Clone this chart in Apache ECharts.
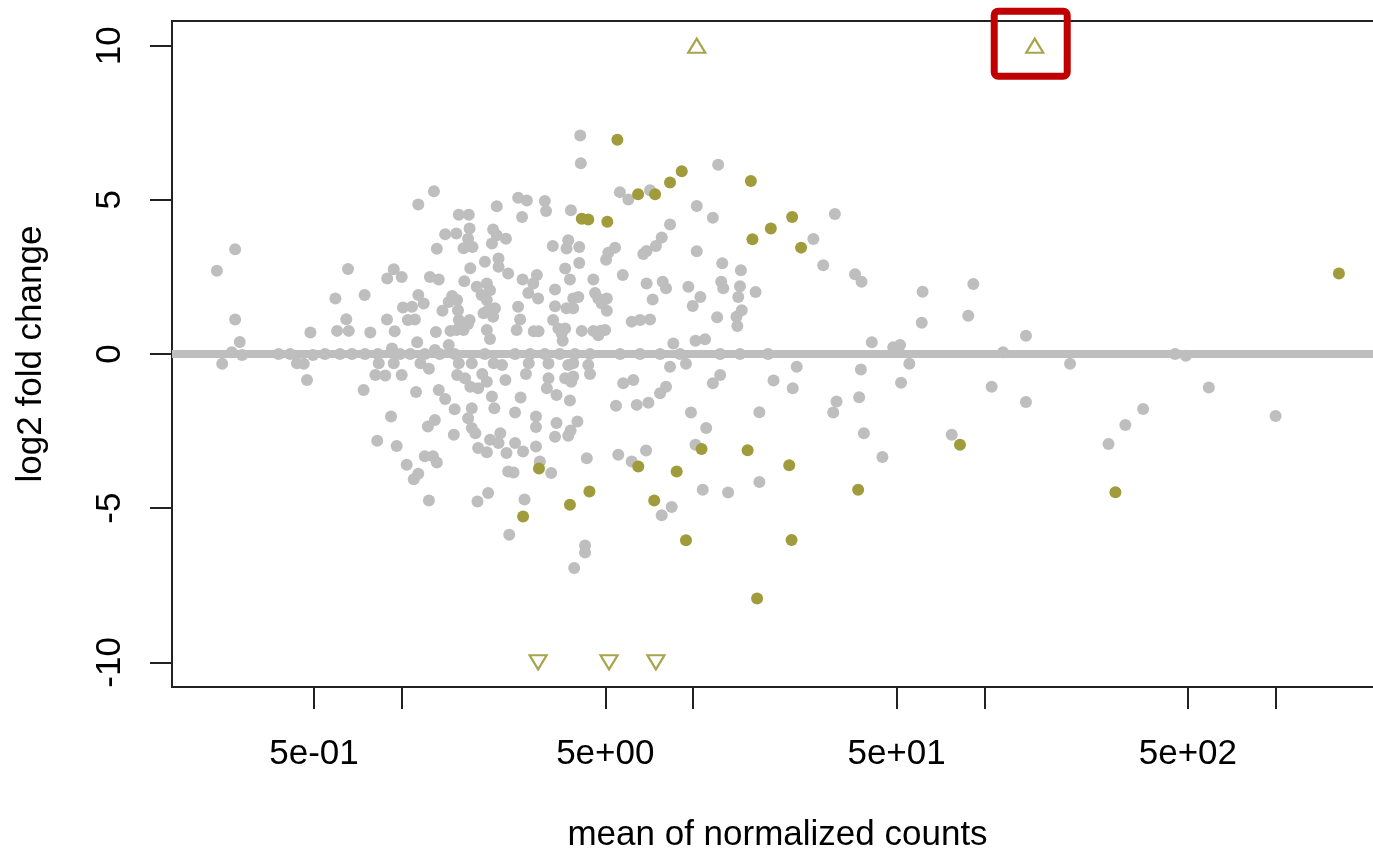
<!DOCTYPE html>
<html><head><meta charset="utf-8">
<script src="https://cdn.jsdelivr.net/npm/echarts@6/dist/echarts.min.js"></script>
<style>html,body{margin:0;padding:0;background:#fff;overflow:hidden}#c{width:1373px;height:850px}</style>
</head><body><div id="c"></div>
<script>
// ---- data ----
const NS_MEAN = [
0.232,0.242,0.261,0.268,0.268,0.278,0.283,0.378,0.414,0.437,
0.461,0.473,0.486,0.496,0.545,0.592,0.600,0.614,0.645,0.654,
0.658,0.675,0.740,0.746,0.748,0.780,0.812,0.824,0.829,0.834,
0.878,0.890,0.892,0.919,0.926,0.939,0.939,0.946,0.961,0.987,
1.00,1.00,1.01,1.04,1.05,1.07,1.11,1.085,1.10,1.12,
1.13,1.14,1.14,1.14,1.16,1.19,1.20,1.20,1.23,1.24,
1.24,1.25,1.28,1.29,1.30,1.31,1.30,1.32,1.32,1.34,
1.34,1.35,1.38,1.41,1.41,1.45,1.45,1.47,1.49,1.51,
1.52,1.52,1.54,1.54,1.55,1.55,1.56,1.57,1.57,1.57,
1.61,1.63,1.63,1.64,1.75,1.65,1.69,1.69,1.69,1.70,
1.71,1.71,1.72,1.72,1.74,1.74,1.74,1.79,1.83,1.81,
1.82,1.83,1.88,1.89,1.91,1.93,1.93,1.96,1.96,1.96,
1.96,1.96,1.98,1.98,2.01,2.01,2.01,2.04,2.04,2.06,
2.06,2.07,2.08,2.09,2.12,2.12,2.15,2.15,2.15,2.18,
2.21,2.27,2.28,2.29,2.32,2.32,2.34,2.42,2.45,2.45,
2.45,2.48,2.51,2.51,2.55,2.56,2.59,2.60,2.61,2.64,
2.67,2.69,2.72,2.73,2.83,2.84,2.89,2.89,2.89,2.91,
2.94,2.95,2.98,3.10,3.13,3.15,3.19,3.19,3.26,3.30,
3.31,3.36,3.36,3.36,3.40,3.40,3.45,3.54,3.57,3.64,
3.64,3.64,3.68,3.68,3.73,3.73,3.73,3.78,3.78,3.80,
3.81,3.82,3.88,3.88,3.88,3.88,3.91,4.01,4.04,4.07,
4.07,4.10,4.12,4.15,4.26,4.26,4.32,4.37,4.43,4.55,
4.55,4.61,4.73,4.73,4.80,4.86,4.99,5.03,5.06,5.06,
5.12,5.40,5.44,5.54,5.61,5.74,5.76,6.00,6.16,6.16,
6.24,6.41,6.58,6.75,6.90,6.93,6.93,7.03,7.12,7.12,
7.27,7.46,7.71,7.81,7.81,7.87,8.08,8.08,8.34,8.34,
8.45,8.56,9.46,9.64,9.84,9.98,10.2,10.2,10.3,10.3,
10.6,10.8,11.0,11.1,11.7,11.7,12.1,12.2,12.4,12.5,
12.6,12.7,13.2,14.1,14.2,14.3,14.5,14.6,14.7,16.4,
16.9,16.9,18.1,18.9,22.0,22.7,25.9,28.0,30.3,30.7,
31.1,36.0,37.2,37.7,37.9,38.6,41.1,44.7,48.7,51.4,
51.8,55.3,61.0,61.4,77.3,88.1,91.7,106,116,139,
139,197,267,305,351,452,492,590,1000,2.76,
3.10,3.49,3.93,4.43,5.62,6.58,7.71,9.02,12.4,14.5
];
const NS_LFC = [
2.70,-0.32,0.06,3.40,1.12,0.39,-0.03,0,0,-0.30,
-0.32,-0.84,0.70,-0.03,0,1.80,0.75,0,1.13,2.76,
0.75,0,-1.17,1.91,0,0.70,-0.68,-2.81,0,-0.30,
-0.70,1.12,2.45,-2.03,0.18,2.75,-0.30,0.74,-2.98,0,
2.50,-0.68,1.51,-3.59,1.10,0,1.12,1.53,-4.06,-1.23,
0.38,-3.88,4.85,1.91,-0.30,1.64,0,-3.32,-2.35,-0.48,
-4.75,2.50,-3.32,5.28,-2.14,0.71,0.13,3.41,-3.52,2.42,
-1.17,0,1.40,3.88,-1.46,0.29,1.69,0.75,1.88,-2.62,
-1.79,0,3.91,0.78,1.75,-0.68,1.42,4.52,1.10,-0.30,
0.88,3.43,0.78,2.36,3.47,-0.79,3.74,-2.08,0.97,4.52,
4.07,1.10,2.78,-1.06,-1.76,-2.40,-0.30,-2.57,-1.11,2.18,
-4.78,-3.05,1.91,-0.65,1.32,2.99,0,2.29,1.75,0.78,
-0.90,-3.19,1.42,-4.51,2.07,0.49,-2.78,3.58,-1.38,4.04,
1.21,-0.30,-1.76,1.48,4.79,3.85,3.10,2.83,-2.89,-2.57,
-0.36,-0.84,3.74,-3.21,2.61,-3.81,-5.86,-3.84,-1.90,-2.89,
0,0.78,5.07,1.53,1.12,-1.41,4.44,2.42,-3.16,-4.72,
-0.65,4.98,1.98,-0.30,2.29,0.74,-2.03,-2.37,-3.00,2.56,
1.80,0.74,-3.49,4.96,4.64,-1.11,-0.31,-0.79,-3.86,3.50,
1.10,2.09,1.55,-2.68,-2.24,-1.33,0.83,0.67,0.43,2.77,
0.83,-0.79,3.42,1.48,3.69,-0.36,-2.65,2.42,-1.51,-2.48,
4.66,-0.90,1.80,1.48,-0.30,-0.73,-6.94,-2.19,1.85,3.47,
2.95,7.09,6.19,0.75,-6.21,-6.44,-3.38,-0.36,-0.65,2.42,
0.75,1.98,1.80,0.61,0.75,1.64,0.78,3.06,1.80,1.40,
3.28,3.45,-1.68,-3.27,5.25,2.56,-0.95,5.01,1.05,-3.49,
-0.84,-1.65,1.10,3.24,-3.13,3.34,2.29,-1.58,5.31,1.12,
1.77,3.50,-1.27,3.78,-5.23,2.34,-1.06,2.13,4.20,-0.41,
-4.96,0.34,-0.32,2.18,-1.90,1.56,0.43,-2.94,4.80,3.33,
1.85,-4.40,0.48,-2.40,4.42,-0.95,1.19,6.14,-0.68,2.34,
2.94,2.13,-4.49,1.21,0.91,1.85,2.20,2.72,1.42,2.01,
-1.89,-4.15,0,-0.86,-1.11,-0.41,3.73,2.88,-1.90,4.54,
-1.54,2.59,-1.40,-0.50,2.34,-2.57,0.38,-3.34,0.22,0.29,
-0.93,-0.32,1.01,2.02,-2.62,1.24,2.27,-1.06,0.06,0.59,
-1.56,-0.32,-2.92,-2.30,-1.78,0,-0.06,-1.09,-2.01,0,
0,0,0,0,0,0,0,0,0,0
];
const SIG_MEAN = [5.50,9.15,8.34,15.8,6.48,7.41,4.15,4.37,5.08,21.9,18.5,16.0,23.5,1650,82.5,
                  2.96,2.61,4.41,3.78,6.49,8.79,7.36,10.7,15.4,21.4,36.9,9.46,21.8,16.6,282];
const SIG_LFC  = [6.95,5.93,5.56,5.61,5.18,5.18,4.39,4.36,4.29,4.44,4.07,3.72,3.45,2.61,-2.94,
                  -3.71,-5.27,-4.46,-4.89,-3.65,-3.81,-4.75,-3.08,-3.12,-3.61,-4.40,-6.04,-6.03,-7.93,-4.48];
const LFC_LIMIT = 10;                 // values beyond are drawn as triangles at the limit
const UP_MEAN   = [10.3, 149];        // clipped at +10
const DOWN_MEAN = [2.94, 5.15, 7.46]; // clipped at -10
const HIGHLIGHT_MEAN = 149;           // gene boxed in red

const X_MIN = 0.1627, X_MAX = 2338;   // axis limits (log scale)
const Y_MIN = -10.8,  Y_MAX = 10.8;
const X_TICKS = [0.5, 1, 5, 10, 50, 100, 500, 1000];
const X_LABEL_VALUES = [0.5, 5, 50, 500];
const X_LABEL_TEXT   = ['5e-01', '5e+00', '5e+01', '5e+02'];
const Y_TICKS = [-10, -5, 0, 5, 10];

// ---- chart ----
const GREY = '#BEBEBE', OLIVE = '#A09C3C', TRI = '#A7A44C';
const FONT = "'Liberation Sans', Arial, sans-serif";
const chart = echarts.init(document.getElementById('c'), null, {renderer: 'canvas'});
const LOG = v => Math.log10(v);

chart.setOption({
  animation: false,
  backgroundColor: '#ffffff',
  grid: {left: 172, top: 21, width: 1211, height: 666, show: true,
         outerBoundsMode: 'none', containLabel: false,
         borderColor: '#222', borderWidth: 2, backgroundColor: 'transparent'},
  xAxis: [
    {type: 'log', logBase: 10, min: X_MIN, max: X_MAX, position: 'top',
     axisLine: {show: false, onZero: false}, axisTick: {show: false}, axisLabel: {show: false}, splitLine: {show: false}},
    {type: 'value', min: LOG(X_MIN), max: LOG(X_MAX), position: 'bottom',
     axisLine: {show: false, onZero: false}, splitLine: {show: false},
     axisTick: {show: true, length: 22, customValues: X_TICKS.map(LOG), lineStyle: {color: '#222', width: 2}},
     axisLabel: {show: true, customValues: X_LABEL_VALUES.map(LOG), margin: 50, color: '#000',
                 fontSize: 35, fontFamily: FONT,
                 formatter: v => {
                   const i = X_LABEL_VALUES.findIndex(t => Math.abs(LOG(t) - v) < 1e-6);
                   return i >= 0 ? X_LABEL_TEXT[i] : '';
                 }},
     name: 'mean of normalized counts', nameLocation: 'middle', nameGap: 131,
     nameTextStyle: {fontSize: 35, fontFamily: FONT, color: '#000'}}
  ],
  yAxis: {type: 'value', min: Y_MIN, max: Y_MAX,
    axisLine: {show: false, onZero: false}, splitLine: {show: false},
    axisTick: {show: true, length: 22, customValues: Y_TICKS, lineStyle: {color: '#222', width: 2}},
    axisLabel: {show: true, customValues: Y_TICKS, rotate: 90, margin: 44, color: '#000',
                fontSize: 35, fontFamily: FONT},
    name: 'log2 fold change', nameLocation: 'middle', nameRotate: 90, nameGap: 123,
    nameTextStyle: {fontSize: 35, fontFamily: FONT, color: '#000'}},
  series: [
    {type: 'scatter', name: 'not significant', xAxisIndex: 0, z: 2,
     data: NS_MEAN.map((m, i) => [m, NS_LFC[i]]),
     symbol: 'circle', symbolSize: 12, itemStyle: {color: GREY, opacity: 1}},
    {type: 'scatter', name: 'zero', xAxisIndex: 0, z: 3, data: [],
     markLine: {silent: true, symbol: ['none', 'none'], label: {show: false},
                lineStyle: {color: GREY, width: 8, type: 'solid'},
                data: [{yAxis: 0}]}},
    {type: 'scatter', name: 'significant', xAxisIndex: 0, z: 4,
     data: SIG_MEAN.map((m, i) => [m, SIG_LFC[i]]),
     symbol: 'circle', symbolSize: 12, itemStyle: {color: OLIVE, opacity: 1}},
    {type: 'scatter', name: 'up (clipped)', xAxisIndex: 0, z: 4,
     data: UP_MEAN.map(m => [m, LFC_LIMIT]),
     symbol: 'triangle', symbolSize: [17, 14],
     itemStyle: {color: 'rgba(255,255,255,0)', borderColor: TRI, borderWidth: 2.2, opacity: 1}},
    {type: 'scatter', name: 'down (clipped)', xAxisIndex: 0, z: 4,
     data: DOWN_MEAN.map(m => [m, -LFC_LIMIT]),
     symbol: 'triangle', symbolRotate: 180, symbolSize: [17, 14],
     itemStyle: {color: 'rgba(255,255,255,0)', borderColor: TRI, borderWidth: 2.2, opacity: 1}}
  ]
});

const p = chart.convertToPixel({xAxisIndex: 0, yAxisIndex: 0}, [HIGHLIGHT_MEAN, LFC_LIMIT]);
chart.setOption({graphic: [{type: 'rect', z: 100,
  shape: {x: p[0] - 40.5, y: p[1] - 34.5, width: 73, height: 65, r: 4},
  style: {fill: 'none', stroke: '#C00000', lineWidth: 7}}]});
</script></body></html>
